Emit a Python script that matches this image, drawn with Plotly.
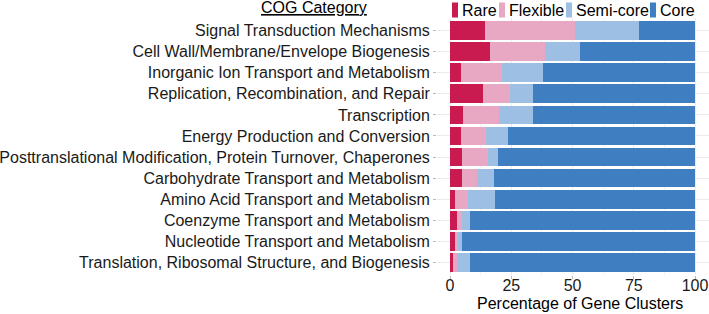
import plotly.graph_objects as go

categories = [
    "Signal Transduction Mechanisms",
    "Cell Wall/Membrane/Envelope Biogenesis",
    "Inorganic Ion Transport and Metabolism",
    "Replication, Recombination, and Repair",
    "Transcription",
    "Energy Production and Conversion",
    "Posttranslational Modification, Protein Turnover, Chaperones",
    "Carbohydrate Transport and Metabolism",
    "Amino Acid Transport and Metabolism",
    "Coenzyme Transport and Metabolism",
    "Nucleotide Transport and Metabolism",
    "Translation, Ribosomal Structure, and Biogenesis",
]
rare = [14.1, 16.4, 4.3, 13.4, 5.4, 4.4, 5.0, 4.7, 2.0, 2.7, 2.0, 1.3]
flexible = [37.0, 22.3, 16.9, 10.9, 14.4, 10.4, 10.7, 6.3, 5.4, 2.0, 1.4, 1.4]
semi_core = [26.2, 14.4, 16.7, 9.6, 14.1, 8.7, 3.9, 6.9, 11.0, 3.6, 1.6, 5.4]
core = [22.7, 46.9, 62.1, 66.1, 66.1, 76.5, 80.4, 82.1, 81.6, 91.7, 95.0, 91.9]
series_names = ["Rare", "Flexible", "Semi-core", "Core"]
series_values = [rare, flexible, semi_core, core]
colors = ["#C91B50", "#E8A7C2", "#9DBFE4", "#3F7FC1"]
x_ticks = [0, 25, 50, 75, 100]

W, H = 709, 314
L, R, T, B = 437, 0, 18, 39
FONT = "Liberation Sans, Arial, sans-serif"

fig = go.Figure()
for name, vals, col in zip(series_names, series_values, colors):
    fig.add_trace(go.Bar(
        y=categories, x=vals, name=name, orientation="h",
        marker=dict(color=col, line=dict(width=0)),
        showlegend=False,
    ))

pw = W - L - R
ph = H - T - B


def px2x(px):
    return (px - L) / pw


def py2y(py):
    return (H - B - py) / ph


# Legend drawn manually (compact ggplot style)
legend_items = [(452, 460), (499, 507), (566, 574), (650, 658)]
shapes = []
annotations = []
for (sx, tx), name, col in zip(legend_items, series_names, colors):
    shapes.append(dict(type="rect", xref="paper", yref="paper",
                       x0=px2x(sx), x1=px2x(sx + 6), y0=py2y(17.5), y1=py2y(2.5),
                       fillcolor=col, line=dict(width=0)))
    annotations.append(dict(text=name, xref="paper", yref="paper",
                            x=px2x(tx), y=py2y(10), xanchor="left", yanchor="middle",
                            showarrow=False, font=dict(size=16, color="#000", family=FONT)))

annotations.append(dict(text="<u>COG Category</u>", xref="paper", yref="paper",
                        x=px2x(314), y=py2y(8), xanchor="center", yanchor="middle",
                        showarrow=False, font=dict(size=16, color="#000", family=FONT)))
annotations.append(dict(text="Percentage of Gene Clusters", xref="paper", yref="paper",
                        x=px2x(580), y=py2y(303), xanchor="center", yanchor="middle",
                        showarrow=False, font=dict(size=16, color="#000", family=FONT)))

fig.update_layout(
    width=W, height=H,
    margin=dict(l=L, r=R, t=T, b=B, pad=0, autoexpand=False),
    barmode="stack", bargap=0.11,
    plot_bgcolor="white", paper_bgcolor="white",
    font=dict(family=FONT, size=16, color="#1a1a1a"),
    shapes=shapes, annotations=annotations,
    xaxis=dict(range=[-5.31, 105.7], tickvals=x_ticks, ticktext=[str(v) for v in x_ticks],
               automargin=False,
               showgrid=True, gridcolor="#EBEBEB", gridwidth=1,
               minor=dict(tickvals=[12.5, 37.5, 62.5, 87.5], showgrid=True,
                          gridcolor="#F3F3F3", gridwidth=1),
               zeroline=False, showline=False,
               ticks="outside", ticklen=3, tickcolor="#BBBBBB",
               ticklabelstandoff=-7, ticklabeloverflow="allow",
               tickfont=dict(size=16, color="#1a1a1a")),
    yaxis=dict(categoryorder="array", categoryarray=categories,
               automargin=False,
               range=[11.6, -0.6], showgrid=True, gridcolor="#EBEBEB", gridwidth=1,
               zeroline=False, showline=False,
               ticks="outside", ticklen=3, tickcolor="#BBBBBB",
               tickfont=dict(size=16, color="#1a1a1a")),
)

fig.write_html("out.html")
